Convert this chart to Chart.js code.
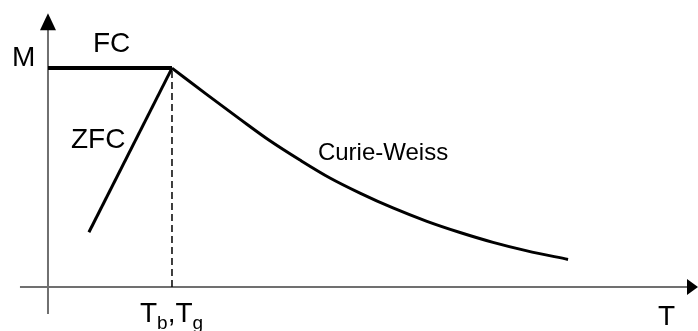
<!DOCTYPE html>
<html>
<head>
<meta charset="utf-8">
<title>M vs T</title>
<script src="https://cdn.jsdelivr.net/npm/chart.js@4.4.0/dist/chart.umd.min.js"></script>
<style>
  body { margin: 0; background: #fff; }
  #holder { width: 698px; height: 331px; }
</style>
</head>
<body>
<div id="holder"><canvas id="myMTChart" width="698" height="331"></canvas></div>
<script>
// T in units of Tb, M in units of the FC plateau
let fcT = [0, 1]
let fcM = [1, 1]

let zfcT = [0.33, 1]
let zfcM = [0.25, 1]

let cwT = [1, 1.274, 1.548, 1.79, 2.032, 2.274, 2.516, 2.782, 3.056, 3.323, 3.589, 3.863, 4.194]
let cwM = [1, 0.882, 0.767, 0.668, 0.58, 0.498, 0.429, 0.361, 0.3, 0.249, 0.204, 0.165, 0.126]

let tbT = [1, 1]
let tbM = [0, 1]

// text labels: [text, T, M, size]
let labelText = ["M", "FC", "ZFC", "Curie-Weiss"]
let labelT = [-0.29, 0.363, 0.185, 2.177]
let labelM = [1.009, 1.073, 0.635, 0.58]
let labelSize = [28, 28, 28, 24]

function pts(xs, ys) {
  let out = []
  for (let i = 0; i < xs.length; i++) {
    out.push({ x: xs[i], y: ys[i] })
  }
  return out
}

let font = "Liberation Sans, Arial, sans-serif"

// draws the two axes with arrow heads plus all the text
let axesPlugin = {
  id: "axesAndText",
  beforeDatasetsDraw(chart) {
    let ctx = chart.ctx
    let xs = chart.scales.x
    let ys = chart.scales.y
    let x0 = xs.getPixelForValue(0)
    let y0 = ys.getPixelForValue(0)
    let right = chart.chartArea.right
    ctx.save()
    ctx.strokeStyle = "#707070"
    ctx.fillStyle = "#000"
    ctx.lineWidth = 2
    ctx.beginPath()
    ctx.moveTo(xs.getPixelForValue(-0.226), y0)
    ctx.lineTo(right - 8, y0)
    ctx.moveTo(x0, ys.getPixelForValue(-0.123))
    ctx.lineTo(x0, ys.getPixelForValue(1.18))
    ctx.stroke()
    // arrow up
    let top = ys.getPixelForValue(1.251)
    ctx.beginPath()
    ctx.moveTo(x0, top)
    ctx.lineTo(x0 - 8, top + 17)
    ctx.lineTo(x0 + 8, top + 17)
    ctx.closePath()
    ctx.fill()
    // arrow right
    ctx.beginPath()
    ctx.moveTo(right, y0)
    ctx.lineTo(right - 11, y0 - 8)
    ctx.lineTo(right - 11, y0 + 8)
    ctx.closePath()
    ctx.fill()
    ctx.restore()
  },
  afterDatasetsDraw(chart) {
    let ctx = chart.ctx
    let xs = chart.scales.x
    let ys = chart.scales.y
    ctx.save()
    ctx.fillStyle = "#000"
    ctx.textBaseline = "alphabetic"
    ctx.textAlign = "left"
    for (let i = 0; i < labelText.length; i++) {
      ctx.font = labelSize[i] + "px " + font
      ctx.fillText(labelText[i], xs.getPixelForValue(labelT[i]), ys.getPixelForValue(labelM[i]))
    }
    // Tb,Tg under the dashed line
    let x = xs.getPixelForValue(0.742)
    let y = ys.getPixelForValue(-0.16)
    let parts = [["T", 0], ["b", 1], [",T", 0], ["g", 1]]
    for (let p of parts) {
      ctx.font = (p[1] ? "19px " : "28px ") + font
      ctx.fillText(p[0], x, y + (p[1] ? 7 : 0))
      x += ctx.measureText(p[0]).width
    }
    ctx.font = "28px " + font
    ctx.fillText("T", xs.getPixelForValue(4.919), ys.getPixelForValue(-0.174))
    ctx.restore()
  }
}

let ctx = document.getElementById("myMTChart").getContext("2d")
let chart = new Chart(ctx, {
  type: "scatter",
  data: {
    datasets: [
      {
        label: "Tb",
        data: pts(tbT, tbM),
        showLine: true,
        borderColor: "#000",
        borderWidth: 1.5,
        borderDash: [7, 4],
        pointRadius: 0
      },
      {
        label: "FC",
        data: pts(fcT, fcM),
        showLine: true,
        borderColor: "#000",
        borderWidth: 4,
        pointRadius: 0
      },
      {
        label: "ZFC",
        data: pts(zfcT, zfcM),
        showLine: true,
        borderColor: "#000",
        borderWidth: 3,
        pointRadius: 0
      },
      {
        label: "Curie-Weiss",
        data: pts(cwT, cwM),
        showLine: true,
        borderColor: "#000",
        borderWidth: 3,
        cubicInterpolationMode: "monotone",
        pointRadius: 0
      }
    ]
  },
  options: {
    responsive: false,
    animation: false,
    devicePixelRatio: 1,
    layout: { padding: 0 },
    plugins: {
      legend: { display: false },
      tooltip: { enabled: false }
    },
    scales: {
      x: { type: "linear", display: false, min: -0.387, max: 5.242 },
      y: { type: "linear", display: false, min: -0.201, max: 1.311 }
    }
  },
  plugins: [axesPlugin]
})
</script>
</body>
</html>
